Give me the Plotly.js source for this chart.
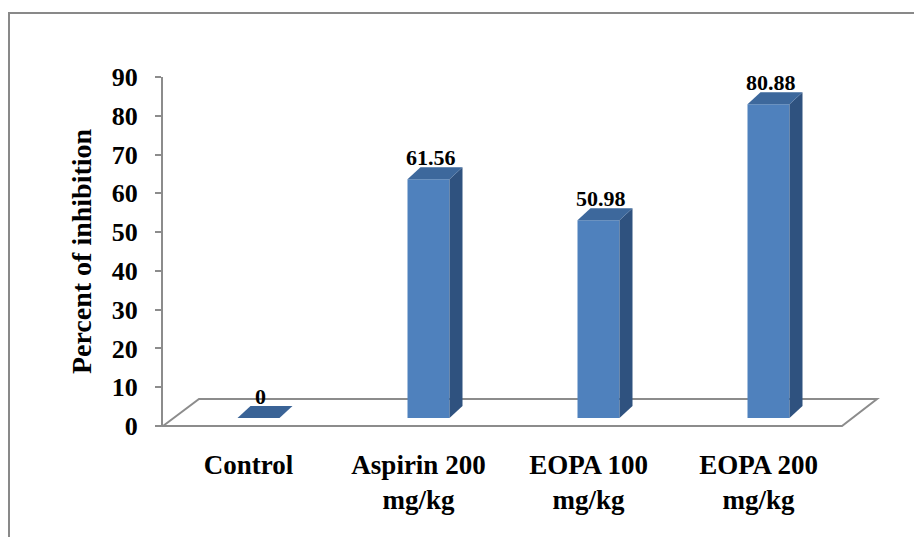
<!DOCTYPE html>
<html>
<head>
<meta charset="utf-8">
<script src="https://cdn.plot.ly/plotly-3.0.1.min.js"></script>
<style>html,body{margin:0;padding:0;background:#fff;}#chart{width:914px;height:537px;}</style>
</head>
<body>
<div id="chart"></div>
<script>
// ---- data ----
const categories = ["Control", "Aspirin 200<br>mg/kg", "EOPA 100<br>mg/kg", "EOPA 200<br>mg/kg"];
const inhibition = [0, 61.56, 50.98, 80.88];
const dataLabels = ["0", "61.56", "50.98", "80.88"];
const yTickVals = [0, 10, 20, 30, 40, 50, 60, 70, 80, 90];

// ---- geometry (pixels) ----
const W = 914, H = 537;
const plotL = 163, plotR = 877, plotT = 77, plotB = 426;
const catPx0 = 258.5, catStep = 170;   // front-face centre of first bar, spacing
const barPx = 42;                      // front face width
const depthDx = 13, depthDy = 12;      // bar depth offset (px)
const barBaseLift = 8;                 // bars stand 8px above the floor front edge
const yMax = 90;
const pxPerUnitY = (plotB - plotT) / yMax;
const xmin = (plotL - catPx0) / catStep, xmax = (plotR - catPx0) / catStep;
const bw = barPx / catStep, ddx = depthDx / catStep, ddy = depthDy / pxPerUnitY;
const lift = barBaseLift / pxPerUnitY;

const fontFam = "Liberation Serif, Times New Roman, serif";
const frontCol = "#4F81BD", sideCol = "#2F527F", topCol = "#3D689C", flatCol = "#3A6396";

const idx = categories.map((_, i) => i);
const traces = [];
// anchor trace so the visible value axis is drawn
traces.push({type: "scatter", mode: "markers", x: [0], y: [0], marker: {opacity: 0},
  hoverinfo: "skip", showlegend: false});
traces.push({
  type: "bar", x: idx, y: inhibition, width: bw, yaxis: "y2",
  marker: {color: frontCol, line: {width: 0}}, hoverinfo: "skip", showlegend: false
});
inhibition.forEach((v, i) => {
  const xl = i - bw / 2, xr = i + bw / 2;
  if (v > 0) {
    traces.push({
      type: "scatter", mode: "lines", yaxis: "y2", fill: "toself", fillcolor: sideCol,
      line: {width: 0, color: sideCol}, hoverinfo: "skip", showlegend: false,
      x: [xr, xr + ddx, xr + ddx, xr, xr],
      y: [0, ddy, v + ddy, v, 0]
    });
  }
  traces.push({
    type: "scatter", mode: "lines", yaxis: "y2", fill: "toself", fillcolor: v > 0 ? topCol : flatCol,
    line: {width: 0, color: topCol}, hoverinfo: "skip", showlegend: false,
    x: [xl, xr, xr + ddx, xl + ddx, xl],
    y: [v, v, v + ddy, v + ddy, v]
  });
});

const annotations = inhibition.map((v, i) => ({
  x: i + ddx / 6, y: v + ddy, xref: "x", yref: "y2", text: "<b>" + dataLabels[i] + "</b>",
  showarrow: false, yanchor: "bottom", xanchor: "center", yshift: -5,
  font: {family: fontFam, size: 22, color: "#000"}
}));

// paper-coordinate helpers for decorations
const px2x = p => (p - plotL) / (plotR - plotL);
const px2y = p => (plotB - p) / (plotB - plotT);

const shapes = [
  {type: "path", xref: "paper", yref: "paper", layer: "below",
   path: `M ${px2x(163)},${px2y(426)} L ${px2x(199)},${px2y(399)} L ${px2x(877)},${px2y(399)} L ${px2x(842)},${px2y(426)} Z`,
   line: {color: "#8C8C8C", width: 2}, fillcolor: "rgba(0,0,0,0)"},
  {type: "rect", xref: "paper", yref: "paper", layer: "below",
   x0: px2x(9), y0: px2y(560), x1: px2x(940), y1: px2y(13),
   line: {color: "#898989", width: 2}, fillcolor: "rgba(0,0,0,0)"}
];

const layout = {
  width: W, height: H,
  margin: {l: plotL, r: W - plotR, t: plotT, b: H - plotB, pad: 0},
  paper_bgcolor: "#fff", plot_bgcolor: "rgba(0,0,0,0)",
  showlegend: false,
  xaxis: {
    range: [xmin, xmax], showgrid: false, zeroline: false, showline: false,
    tickvals: idx.map(i => i - 10 / catStep), ticktext: categories.map(c => "<b>" + c + "</b>"),
    ticks: "", ticklabelstandoff: 20,
    tickfont: {family: fontFam, size: 27, color: "#000"}, fixedrange: true
  },
  yaxis: {
    range: [0, yMax], tickvals: yTickVals, showgrid: false, zeroline: false,
    showline: true, linecolor: "#8C8C8C", linewidth: 2,
    ticks: "outside", ticklen: 6, tickcolor: "#8C8C8C", tickwidth: 2,
    ticktext: yTickVals.map(t => "<b>" + t + "</b>"),
    tickfont: {family: fontFam, size: 26, color: "#000"}, ticklabelstandoff: 12,
    title: {text: "<b>Percent of inhibition</b>", font: {family: fontFam, size: 28, color: "#000"}, standoff: 12}
  },
  yaxis2: {
    overlaying: "y", range: [-lift, yMax - lift], visible: false, showgrid: false, zeroline: false
  },
  shapes: shapes,
  annotations: annotations
};

Plotly.newPlot("chart", traces, layout, {displayModeBar: false, staticPlot: true});
</script>
</body>
</html>
